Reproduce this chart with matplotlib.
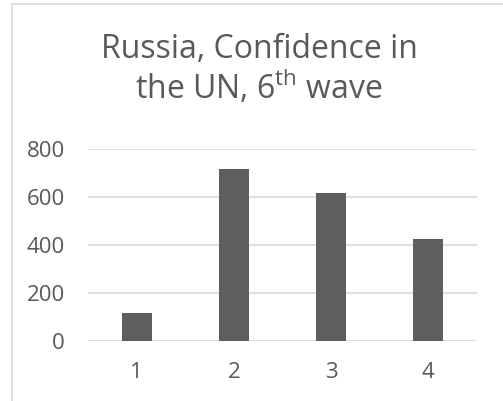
import matplotlib
matplotlib.use('Agg')
import matplotlib.pyplot as plt
from matplotlib.patches import Rectangle

categories = ['1', '2', '3', '4']
counts = [118, 715, 615, 424]
yticks = [0, 200, 400, 600, 800]

text_color = '#595959'
bar_color = '#5e5e5e'
grid_color = '#d9d9d9'

plt.rcParams['font.family'] = 'Open Sans'
plt.rcParams['mathtext.fontset'] = 'custom'
plt.rcParams['mathtext.rm'] = 'Open Sans'

W, H = 503, 401
fig = plt.figure(figsize=(W / 100, H / 100), dpi=100)

# chart frame (only left and top edges are visible)
fig.patches.append(Rectangle((12 / W, -0.1), 1.2, (H - 4) / H + 0.1, transform=fig.transFigure,
                             fill=False, edgecolor=grid_color, linewidth=1.2))

ax = fig.add_axes([88 / W, (H - 341) / H, (477 - 88) / W, (341 - 149) / H])
x = range(len(categories))
ax.bar(x, counts, width=0.31, color=bar_color, zorder=3)
ax.set_xlim(-0.5, len(categories) - 0.5)
ax.set_ylim(0, 800)
ax.set_yticks(yticks)
ax.set_xticks(list(x))
ax.set_xticklabels(categories)
ax.yaxis.grid(True, color=grid_color, linewidth=1.2, zorder=0)
ax.set_axisbelow(True)
for s in ax.spines.values():
    s.set_visible(False)
ax.tick_params(length=0, labelsize=16, labelcolor=text_color)
ax.tick_params(axis='y', pad=16.5)
ax.tick_params(axis='x', pad=15)

fig.text(259 / W, 1 - 58 / H, 'Russia, Confidence in', ha='center', va='baseline',
         fontsize=23, color=text_color)
fig.text(259 / W, 1 - 99 / H, r'the UN, 6$^{\mathrm{th}}$ wave', ha='center', va='baseline',
         fontsize=23, color=text_color)

fig.savefig('out.png', dpi=100)
